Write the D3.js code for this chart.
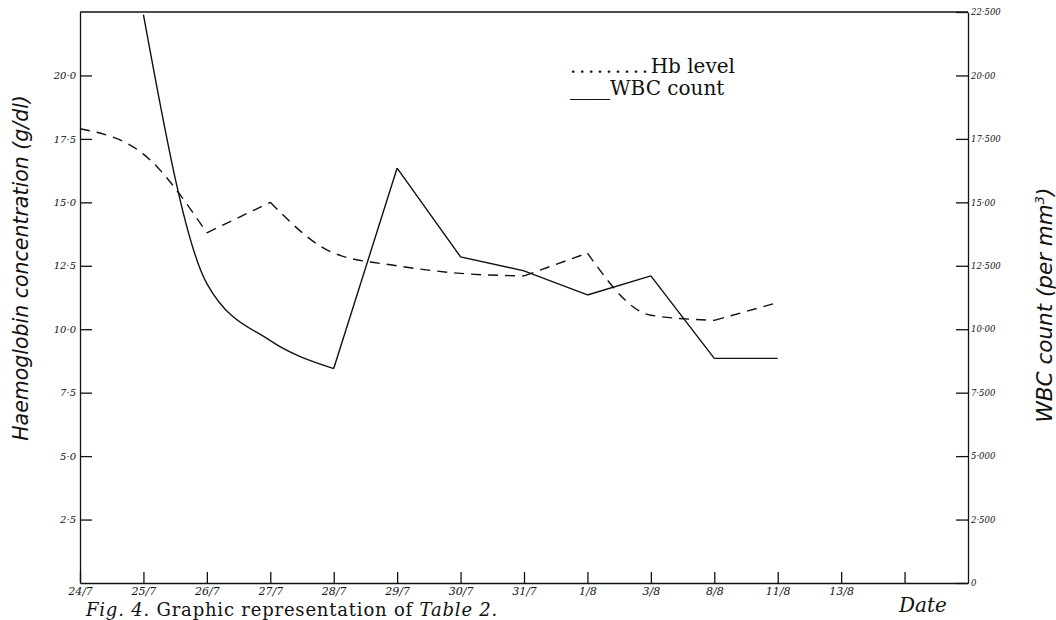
<!DOCTYPE html>
<html>
<head>
<meta charset="utf-8">
<script src="https://cdn.jsdelivr.net/npm/d3@7"></script>
<style>
  body { margin: 0; background: #fff; }
  svg { display: block; }
  .tick text { font-family: 'DejaVu Serif', serif; font-style: italic; font-size: 10px; fill: #111; }
  .tick line, .domain { stroke: #111; stroke-width: 1.3; }
</style>
</head>
<body>
<div id="chart"></div>
<script>
const dates = ['24/7', '25/7', '26/7', '27/7', '28/7', '29/7', '30/7', '31/7', '1/8', '3/8', '8/8', '11/8', '13/8', ''];
const hbLevel = [17.9, 16.9, 13.8, 15.0, 13.0, 12.5, 12.2, 12.1, 13.0, 10.55, 10.35, 11.05];
const wbcCount = [null, 22.4, 11.8, 9.55, 8.45, 16.35, 12.85, 12.3, 11.35, 12.1, 8.85, 8.85];
const hbTicks = [2.5, 5, 7.5, 10, 12.5, 15, 17.5, 20];
const hbTickLabels = ['2·5', '5·0', '7·5', '10·0', '12·5', '15·0', '17·5', '20·0'];
const wbcTicks = [0, 2.5, 5, 7.5, 10, 12.5, 15, 17.5, 20, 22.5];
const wbcTickLabels = ['0', '2·500', '5·000', '7·500', '10·00', '12·500', '15·00', '17·500', '20·00', '22·500'];

const width = 1056;
const height = 620;
const margin = { top: 12, right: 88, bottom: 37, left: 80 };

const svg = d3
  .select('#chart')
  .append('svg')
  .attr('width', width)
  .attr('height', height);

const xScale = d3
  .scaleLinear()
  .domain([0, 14])
  .range([margin.left, width - margin.right]);

const yScale = d3
  .scaleLinear()
  .domain([0, 22.5])
  .range([height - margin.bottom, margin.top]);

// frame top
svg
  .append('line')
  .attr('x1', xScale(0))
  .attr('x2', xScale(14))
  .attr('y1', yScale(22.5))
  .attr('y2', yScale(22.5))
  .attr('stroke', '#111')
  .attr('stroke-width', 1.3);

// left axis (Hb)
svg
  .append('g')
  .attr('transform', `translate(${xScale(0)},0)`)
  .call(
    d3.axisLeft(yScale)
      .tickValues(hbTicks)
      .tickFormat((d, i) => hbTickLabels[i])
      .tickSize(-12)
      .tickSizeOuter(0)
      .tickPadding(4)
  );

// right axis (WBC)
svg
  .append('g')
  .attr('transform', `translate(${xScale(14)},0)`)
  .call(
    d3.axisRight(yScale)
      .tickValues(wbcTicks)
      .tickFormat((d, i) => wbcTickLabels[i])
      .tickSize(-12)
      .tickSizeOuter(0)
      .tickPadding(3)
  )
  .selectAll('.tick text')
  .style('font-size', '8.5px');

// bottom axis (dates)
svg
  .append('g')
  .attr('transform', `translate(0,${yScale(0)})`)
  .call(
    d3.axisBottom(xScale)
      .tickValues(d3.range(0, 14))
      .tickFormat((i) => dates[i])
      .tickSize(-11)
      .tickSizeOuter(0)
      .tickPadding(4)
  )
  .selectAll('.tick text')
  .style('font-size', '11px');

// split a series into monotone runs so peaks stay sharp
const runs = (values) => {
  const pts = values.map((v, i) => [i, v]).filter((d) => d[1] != null);
  const out = [];
  let cur = [pts[0]];
  let dir = null;
  for (let k = 1; k < pts.length; k++) {
    const s = Math.sign(pts[k][1] - pts[k - 1][1]);
    if (dir !== null && s !== dir) {
      out.push(cur);
      cur = [pts[k - 1]];
    }
    cur.push(pts[k]);
    dir = s;
  }
  out.push(cur);
  return out;
};

const smooth = d3
  .line()
  .x((d) => xScale(d[0]))
  .y((d) => yScale(d[1]))
  .curve(d3.curveMonotoneX);

const straight = d3
  .line()
  .x((d) => xScale(d[0]))
  .y((d) => yScale(d[1]));

// Hb: dashed, rounded corners
svg
  .append('path')
  .attr('d', runs(hbLevel).map(smooth).join(''))
  .attr('fill', 'none')
  .attr('stroke', '#111')
  .attr('stroke-width', 1.4)
  .attr('stroke-dasharray', '10 7');

// WBC: solid, only the first fall is drawn as a curve
svg
  .append('path')
  .attr('d', runs(wbcCount).map((r, i) => (i === 0 ? smooth(r) : straight(r))).join(''))
  .attr('fill', 'none')
  .attr('stroke', '#111')
  .attr('stroke-width', 1.4);

// legend
const legend = svg
  .append('g')
  .style('font-family', "'DejaVu Serif', serif")
  .style('font-size', '20px')
  .attr('fill', '#111');

const hbLegend = legend.append('text').attr('x', 570).attr('y', 73);
hbLegend.append('tspan').attr('letter-spacing', '2.6px').text('.........');
hbLegend.append('tspan').text('Hb level');

legend.append('text').attr('x', 570).attr('y', 95).text('____WBC count');

// axis titles
svg
  .append('text')
  .attr('transform', 'translate(28,268) rotate(-90)')
  .attr('text-anchor', 'middle')
  .style('font-family', "'DejaVu Sans', sans-serif")
  .style('font-style', 'italic')
  .style('font-size', '20.5px')
  .attr('fill', '#111')
  .text('Haemoglobin concentration (g/dl)');

const wbcTitle = svg
  .append('text')
  .attr('transform', 'translate(1052,305) rotate(-90)')
  .attr('text-anchor', 'middle')
  .style('font-family', "'DejaVu Sans', sans-serif")
  .style('font-style', 'italic')
  .style('font-size', '21.5px')
  .attr('fill', '#111');
wbcTitle.append('tspan').text('WBC count (per mm');
wbcTitle.append('tspan').attr('dy', -8).style('font-size', '13px').text('3');
wbcTitle.append('tspan').attr('dy', 8).text(')');

// date label and caption
svg
  .append('text')
  .attr('x', 899)
  .attr('y', 612)
  .style('font-family', "'DejaVu Serif', serif")
  .style('font-style', 'italic')
  .style('font-size', '20px')
  .attr('fill', '#111')
  .text('Date');

const caption = svg
  .append('text')
  .attr('x', 86)
  .attr('y', 616)
  .style('font-family', "'DejaVu Serif', serif")
  .style('font-size', '18px')
  .attr('letter-spacing', '0.8px')
  .attr('fill', '#111');
caption.append('tspan').style('font-style', 'italic').text('Fig. 4.');
caption.append('tspan').text(' Graphic representation of ');
caption.append('tspan').style('font-style', 'italic').text('Table 2.');
</script>
</body>
</html>
